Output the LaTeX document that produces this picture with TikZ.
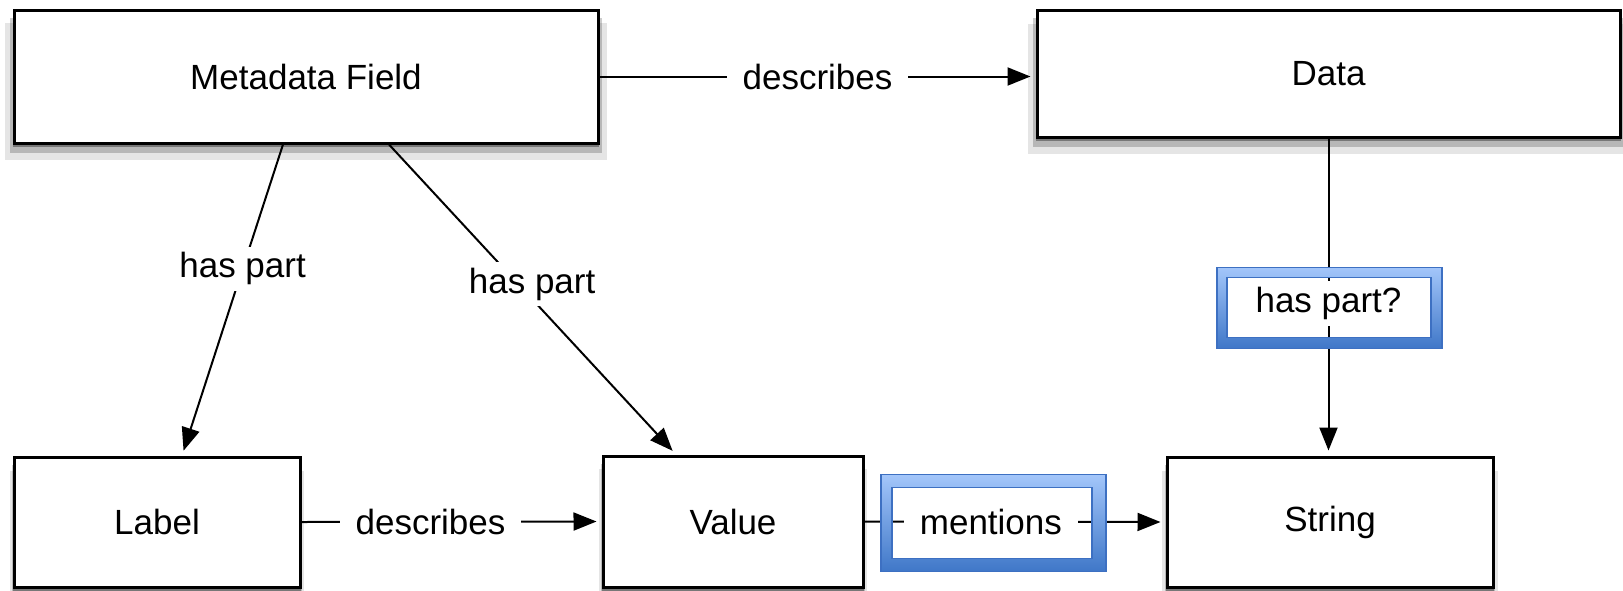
\documentclass[tikz,border=0pt]{standalone}
\usepackage{fontspec}
\setmainfont{Liberation Sans}
\usetikzlibrary{arrows.meta,shadows}

\definecolor{ringtop}{HTML}{A3C6FA}
\definecolor{ringbottom}{HTML}{3F77C8}
\definecolor{ringedge}{HTML}{3D70C2}

\begin{document}
\begin{tikzpicture}[x=1pt,y=-1pt,
    box/.style={draw=black, line width=3pt, fill=white, inner sep=0pt,
      font=\fontsize{35pt}{40pt}\selectfont,
      drop shadow={fill=black,shadow xshift=0pt,shadow yshift=-4pt,opacity=0.35,shadow scale=1.005},
      drop shadow={fill=black,shadow xshift=0pt,shadow yshift=-9pt,opacity=0.2,shadow scale=1.015},
      drop shadow={fill=black,shadow xshift=0pt,shadow yshift=-15pt,opacity=0.1,shadow scale=1.03}},
    rel/.style={draw=black, line width=2pt, -{Triangle[length=23pt,width=18pt]}, shorten >=5pt},
    rellabel/.style={fill=white, inner xsep=16pt, inner ysep=6pt, font=\fontsize{35pt}{40pt}\selectfont},
    ring/.style={even odd rule, top color=ringtop, bottom color=ringbottom},
    ringline/.style={draw=ringedge, line width=1.5pt}]

    \useasboundingbox (0,0) rectangle (1623,590);

    % the five boxes
    \node[box, minimum width=584pt, minimum height=133pt] (meta) at (306,76.5) {Metadata Field};
    \node[box, minimum width=583pt, minimum height=127pt] (data) at (1328.5,73.5) {Data};
    \node[box, minimum width=286pt, minimum height=130pt] (lbl) at (157,522) {Label};
    \node[box, minimum width=260pt, minimum height=131pt] (value) at (733,521.5) {Value};
    \node[box, minimum width=326pt, minimum height=130pt] (str) at (1330,522) {String};

    % relations
    \draw[rel] (meta.east) -- (meta.east -| data.west) node[rellabel, pos=0.5] {describes};
    \draw[rel] ([xshift=-23pt]meta.south) -- ([xshift=25pt]lbl.north) node[rellabel, pos=0.4] {has part};
    \draw[rel] ([xshift=83pt]meta.south) -- ([xshift=-57pt]value.north) node[rellabel, pos=0.45, xshift=14pt] {has part};
    \draw[rel] (data.south) -- (data.south |- str.north) node[rellabel, pos=0.52] (hpq) {has part?};
    \draw[rel] (lbl.east) -- (value.west) node[rellabel, pos=0.43] {describes};
    \draw[rel] (value.east) -- (str.west) node[rellabel, pos=0.42] (mentions) {mentions};

    % blue highlight frames
    \begin{scope}[shift={(hpq.center)}]
    \shade[ring] (-111.5,-36) rectangle (113.5,45) (-101.5,-26) rectangle (102.5,34);
    \draw[ringline] (-111.5,-36) rectangle (113.5,45) (-101.5,-26) rectangle (102.5,34);
    \end{scope}

    \begin{scope}[shift={(mentions.center)}]
    \shade[ring] (-110,-47) rectangle (115,50) (-99,-34) rectangle (101,37);
    \draw[ringline] (-110,-47) rectangle (115,50) (-99,-34) rectangle (101,37);
    \end{scope}

\end{tikzpicture}
\end{document}
